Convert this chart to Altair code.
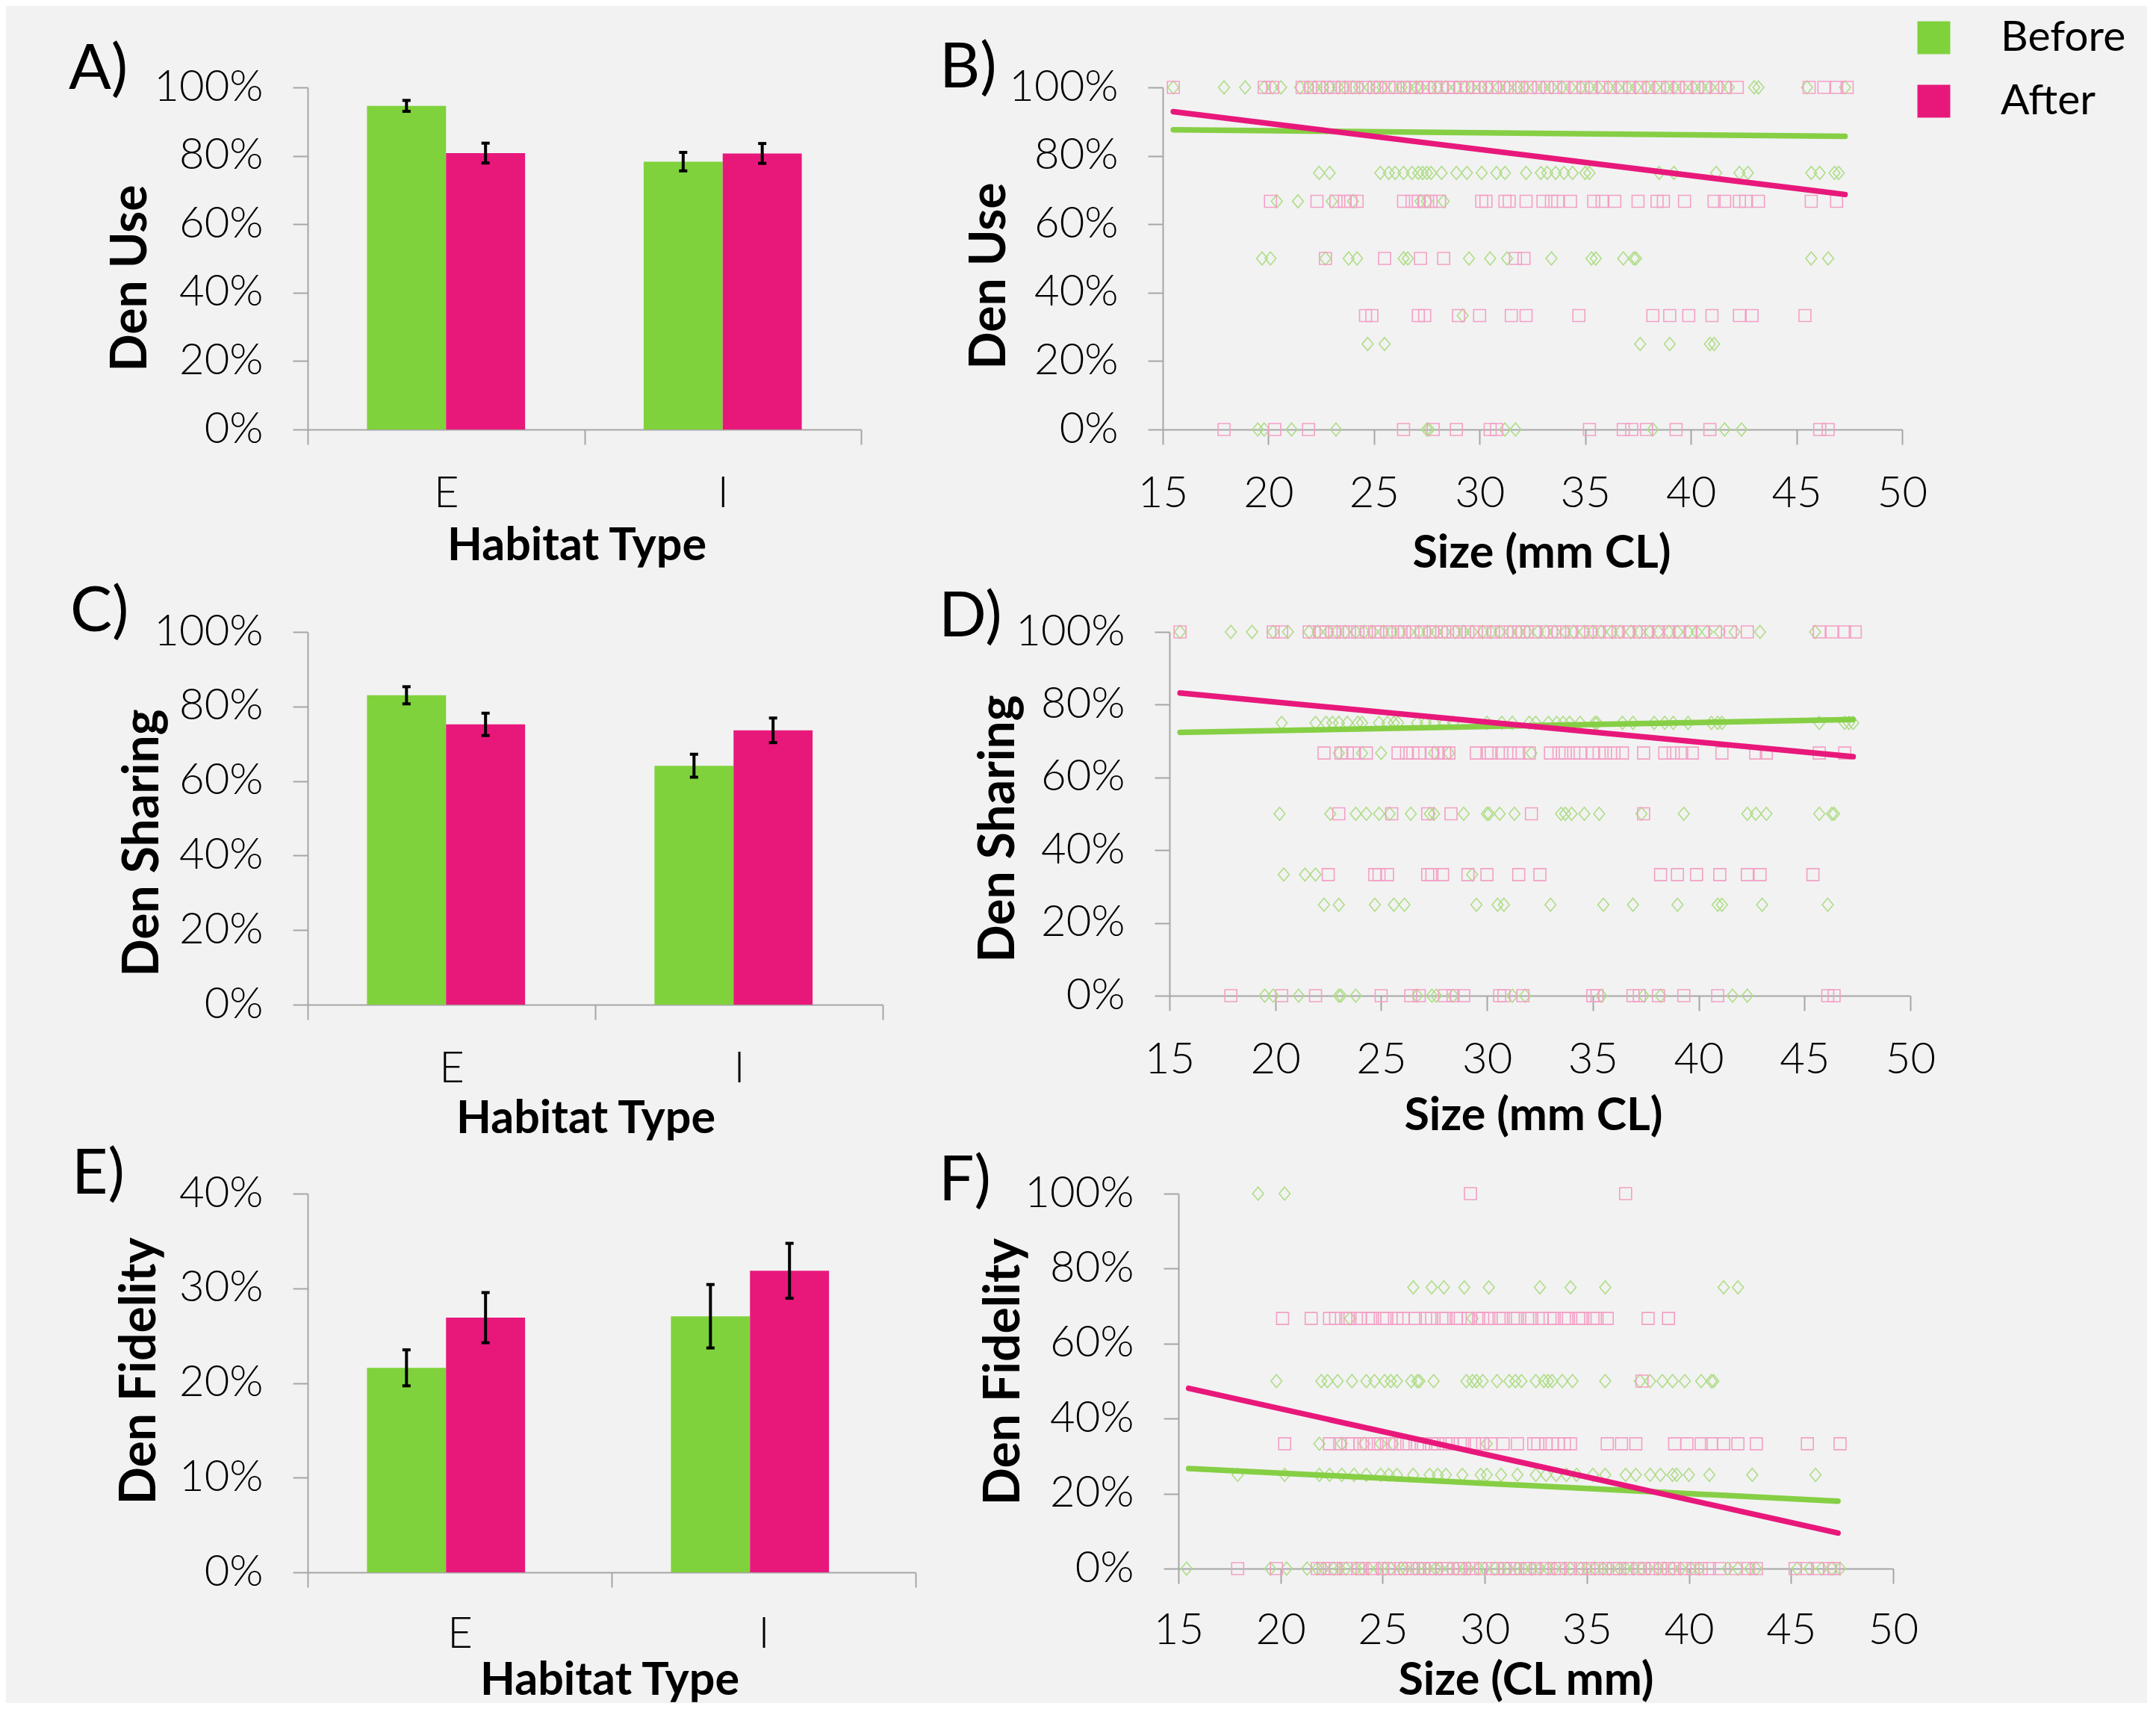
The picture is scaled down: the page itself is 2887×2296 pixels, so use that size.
import altair as alt
import pandas as pd

# ---------------- colours / fonts ----------------
BG = "#F2F2F2"
GREEN = "#80D23C"
PINK = "#E8187B"
LINE_GREEN = "#86CF45"
GREEN_LIGHT = "#AEDD86"
PINK_LIGHT = "#F3A0C5"
AXIS_GRAY = "#A6A6A6"
FONT = "Lato"

DIAMOND = "M0,-1L0.85,0L0,1L-0.85,0Z"

# ---------------- categories ----------------
PERIODS = ["Before", "After"]
HABITATS = ["E", "I"]
PCT_TICKS = [0, 0.2, 0.4, 0.6, 0.8, 1.0]
FID_TICKS = [0, 0.1, 0.2, 0.3, 0.4]
SIZE_TICKS = [15, 20, 25, 30, 35, 40, 45, 50]

# ---------------- bar values (E-Before, E-After, I-Before, I-After) ----------------
A_MEAN = [0.946, 0.808, 0.783, 0.807]
A_SE = [0.016, 0.029, 0.027, 0.029]
C_MEAN = [0.830, 0.752, 0.641, 0.736]
C_SE = [0.023, 0.030, 0.031, 0.033]
E_MEAN = [0.216, 0.269, 0.2705, 0.3185]
E_SE = [0.019, 0.0265, 0.0335, 0.029]

# ---------------- scatter values: size (mm CL) per response level ----------------
# B) Den Use
B_BEF_100 = [15.5, 17.9, 18.9, 19.8, 20.2, 20.6, 21.5, 21.9, 22.2, 22.6, 22.9, 23.3, 23.6, 24.0, 24.3, 24.8,
             25.1, 25.4, 25.9, 26.3, 26.6, 27.0, 27.2, 27.7, 28.0, 28.4, 28.9, 29.3, 29.6, 30.1, 30.4, 30.9,
             31.3, 31.8, 32.1, 32.6, 33.0, 33.4, 33.9, 34.3, 34.8, 35.2, 35.6, 36.1, 36.5, 37.0, 37.4, 37.9,
             38.3, 38.8, 39.2, 39.6, 40.1, 40.5, 40.9, 41.4, 41.8, 43.0, 43.2, 45.5, 47.3]
B_AFT_100 = [15.5, 19.8, 20.2, 21.6, 22.0, 22.4, 22.8, 23.1, 23.5, 23.9, 24.2, 24.6, 25.0, 25.3, 25.7, 26.0,
             26.4, 26.7, 27.0, 27.3, 27.6, 27.9, 28.2, 28.5, 28.8, 29.1, 29.4, 29.7, 30.0, 30.3, 30.6, 30.9,
             31.3, 31.7, 32.0, 32.4, 32.8, 33.2, 33.6, 34.0, 34.5, 34.9, 35.3, 35.8, 36.2, 36.7, 37.1, 37.6,
             38.0, 38.5, 38.9, 39.4, 39.8, 40.3, 40.7, 41.2, 41.6, 42.2, 45.6, 46.3, 46.9, 47.4]
B_BEF_75 = [22.4, 22.9, 25.3, 25.7, 26.0, 26.4, 26.8, 27.1, 27.3, 27.5, 27.7, 28.2, 28.9, 29.4, 30.1, 30.8,
            31.2, 32.2, 32.9, 33.2, 33.6, 34.0, 34.4, 35.0, 35.2, 38.5, 39.2, 41.2, 42.3, 42.7, 45.7, 46.1,
            46.8, 47.0]
B_BEF_67 = [20.4, 21.4, 23.0, 24.0, 27.2, 27.5, 28.3]
B_AFT_67 = [20.1, 22.3, 23.2, 23.6, 23.9, 24.2, 26.4, 26.8, 27.1, 27.4, 27.7, 28.1, 30.1, 30.3, 31.2, 31.4,
            32.2, 33.0, 33.4, 33.7, 34.3, 35.4, 35.8, 36.4, 37.5, 38.4, 38.7, 39.7, 41.1, 41.6, 42.3, 42.6,
            43.2, 45.7, 46.9]
B_BEF_50 = [19.7, 20.1, 22.7, 23.8, 24.2, 26.4, 26.6, 29.5, 30.5, 31.3, 33.4, 35.3, 35.5, 36.8, 37.3, 37.4,
            45.7, 46.5]
B_AFT_50 = [22.7, 25.5, 27.2, 28.3, 31.7, 32.1]
B_BEF_33 = [29.2]
B_AFT_33 = [24.6, 24.9, 27.1, 27.4, 29.0, 30.0, 31.5, 32.2, 34.7, 38.2, 39.0, 39.9, 41.0, 42.3, 42.9, 45.4]
B_BEF_25 = [24.7, 25.5, 37.6, 39.0, 40.9, 41.1]
B_BEF_0 = [19.5, 19.8, 21.1, 23.2, 27.5, 27.6, 31.2, 31.7, 38.2, 41.6, 42.4]
B_AFT_0 = [17.9, 20.3, 21.9, 26.4, 27.8, 28.9, 30.5, 30.8, 35.2, 36.8, 37.2, 37.9, 39.3, 40.9, 46.1, 46.5]

# D) Den Sharing
D_BEF_100 = [15.5, 17.9, 18.9, 19.9, 20.6, 21.6, 22.0, 22.5, 22.9, 23.3, 23.8, 24.2, 24.6, 25.1, 25.5, 25.9,
             26.3, 26.8, 27.2, 27.6, 28.0, 28.5, 28.9, 29.3, 29.8, 30.2, 30.6, 31.1, 31.5, 31.9, 32.4, 32.8,
             33.2, 33.7, 34.1, 34.6, 35.0, 35.4, 35.9, 36.3, 36.8, 37.2, 37.7, 38.1, 38.6, 39.0, 39.5, 39.9,
             40.4, 41.0, 41.7, 42.9, 45.5]
D_AFT_100 = [15.5, 19.9, 20.3, 21.6, 22.1, 22.4, 22.8, 23.2, 23.5, 23.9, 24.3, 24.7, 25.0, 25.4, 25.8, 26.1,
             26.5, 26.9, 27.3, 27.6, 28.0, 28.4, 28.7, 29.1, 29.5, 29.9, 30.3, 30.7, 31.1, 31.5, 31.9, 32.3,
             32.8, 33.2, 33.6, 34.0, 34.5, 34.9, 35.3, 35.8, 36.2, 36.7, 37.2, 37.6, 38.1, 38.6, 39.1, 39.6,
             40.2, 40.8, 41.5, 42.3, 45.7, 46.3, 46.9, 47.4]
D_BEF_75 = [20.3, 21.9, 22.4, 22.7, 23.0, 23.4, 23.9, 24.1, 24.9, 25.3, 25.6, 25.8, 26.7, 27.1, 27.5, 28.0,
            28.4, 30.0, 30.7, 31.2, 32.0, 32.3, 32.9, 33.3, 33.6, 33.9, 34.4, 35.1, 35.2, 36.4, 36.9, 37.9,
            38.4, 38.8, 39.5, 40.6, 40.9, 41.1, 45.7, 46.9, 47.1, 47.3]
D_BEF_67 = [23.0, 24.1, 25.0, 27.5, 28.2, 32.1]
D_AFT_67 = [22.3, 23.1, 23.4, 23.7, 24.3, 25.8, 26.2, 26.5, 26.8, 27.4, 27.7, 28.0, 28.2, 29.5, 30.0, 30.2,
            30.7, 31.1, 31.5, 32.0, 33.0, 33.4, 33.7, 34.1, 34.4, 35.0, 35.3, 35.6, 36.0, 36.4, 37.4, 38.4,
            38.8, 39.2, 39.7, 41.1, 42.7, 43.2, 45.7, 46.9]
D_BEF_50 = [20.2, 22.6, 23.8, 24.3, 24.9, 25.4, 26.4, 27.3, 27.5, 28.9, 30.0, 30.1, 30.6, 31.3, 33.5, 33.7,
            34.0, 34.6, 35.3, 37.3, 39.3, 42.3, 42.7, 43.2, 45.7, 46.3, 46.4]
D_AFT_50 = [23.0, 25.5, 27.2, 28.3, 32.1, 37.4]
D_BEF_33 = [20.4, 21.4, 21.9, 29.3]
D_AFT_33 = [22.5, 24.7, 24.9, 25.3, 27.2, 27.4, 27.9, 29.1, 30.0, 31.5, 32.5, 38.2, 39.0, 39.9, 41.0, 42.3,
            42.9, 45.4]
D_BEF_25 = [22.3, 23.0, 24.7, 25.6, 26.1, 29.5, 30.5, 30.8, 33.0, 35.5, 36.9, 39.0, 40.9, 41.1, 43.0, 46.1]
D_BEF_0 = [19.5, 19.9, 21.1, 23.0, 23.1, 23.8, 26.7, 27.4, 27.6, 28.4, 31.2, 31.8, 35.4, 37.4, 38.2, 41.6, 42.3]
D_AFT_0 = [17.9, 20.3, 21.9, 25.0, 26.4, 26.8, 28.0, 28.4, 28.9, 30.6, 30.8, 31.7, 35.0, 35.2, 36.9, 37.2,
           38.1, 39.3, 40.9, 46.1, 46.4]

# F) Den Fidelity
F_BEF_100 = [18.9, 20.2]
F_AFT_100 = [29.3, 36.9]
F_BEF_75 = [26.5, 27.4, 28.0, 29.0, 30.2, 32.7, 34.2, 35.9, 41.7, 42.4]
F_BEF_67 = [23.4, 29.4]
F_AFT_67 = [20.1, 21.5, 22.4, 22.7, 23.2, 23.4, 23.9, 24.3, 24.5, 25.0, 25.2, 25.7, 26.0, 26.6, 27.1, 27.4,
            27.9, 28.1, 28.6, 28.8, 29.2, 29.7, 29.9, 30.2, 30.7, 30.9, 31.4, 31.6, 32.1, 32.3, 32.8, 33.2,
            33.4, 33.9, 34.1, 34.6, 34.8, 35.3, 35.5, 36.0, 38.0, 39.0]
F_BEF_50 = [19.8, 22.0, 22.3, 22.8, 23.5, 24.2, 24.6, 25.1, 25.4, 25.7, 26.4, 26.7, 26.8, 27.5, 29.1, 29.4,
            29.6, 29.9, 30.6, 31.2, 31.5, 31.8, 32.5, 32.9, 33.1, 33.3, 33.8, 34.3, 35.9, 37.6, 38.1, 38.7,
            39.2, 39.8, 40.6, 41.1, 41.2]
F_AFT_50 = [37.7]
F_BEF_33 = [21.9, 23.0, 24.1, 24.9, 25.5, 30.1]
F_AFT_33 = [20.2, 22.4, 22.9, 23.3, 23.5, 23.9, 24.2, 24.6, 24.9, 25.3, 25.6, 26.0, 26.3, 26.7, 27.0, 27.4,
            27.7, 28.1, 28.4, 28.8, 29.0, 29.5, 29.9, 30.3, 30.9, 31.6, 32.4, 32.6, 33.0, 33.3, 33.6, 33.9,
            34.2, 36.0, 36.7, 37.4, 39.3, 39.9, 40.6, 41.1, 41.7, 42.4, 43.3, 45.8, 47.4]
F_BEF_25 = [17.9, 20.2, 21.9, 22.4, 23.0, 23.6, 24.2, 24.9, 25.3, 25.7, 26.5, 27.3, 27.7, 28.1, 28.9, 29.8,
            30.1, 30.8, 31.6, 32.5, 33.0, 33.5, 34.0, 34.5, 35.3, 35.9, 36.9, 37.4, 38.1, 38.6, 39.2, 39.4,
            40.0, 41.0, 43.1, 46.2]
F_BEF_0 = [15.4, 19.5, 20.3, 21.3, 21.8, 22.1, 22.6, 22.9, 23.2, 23.7, 24.0, 24.3, 24.8, 25.1, 25.4, 25.9,
           26.1, 26.6, 26.9, 27.2, 27.6, 27.8, 28.3, 28.6, 29.0, 29.2, 29.7, 30.0, 30.5, 30.8, 31.1, 31.6,
           31.9, 32.3, 32.7, 33.1, 33.4, 33.9, 34.2, 34.7, 35.0, 35.4, 35.8, 36.1, 36.6, 36.9, 37.3, 37.7,
           38.0, 38.5, 38.8, 39.2, 39.6, 40.1, 40.5, 41.9, 42.4, 43.0, 43.3, 45.3, 45.9, 46.5, 47.0, 47.4]
F_AFT_0 = [17.9, 19.8, 21.8, 22.1, 22.5, 22.7, 23.2, 23.8, 24.0, 24.5, 25.0, 25.3, 25.9, 26.1, 26.5, 26.8,
           27.0, 27.3, 27.6, 27.9, 28.2, 28.7, 29.0, 29.4, 29.8, 30.4, 30.6, 31.0, 31.2, 31.5, 32.0, 32.2,
           32.5, 33.0, 33.4, 33.7, 34.2, 34.7, 35.1, 35.5, 35.9, 36.3, 36.6, 37.0, 37.5, 37.8, 38.2, 38.6,
           39.0, 39.3, 39.8, 40.2, 40.6, 41.0, 41.5, 42.3, 42.9, 43.3, 45.2, 45.8, 46.3, 46.9, 47.1]

# ---------------- fitted trend lines (end points) ----------------
TREND_X = [15.5, 47.3]
B_TREND_BEF = [0.876, 0.857]
B_TREND_AFT = [0.929, 0.687]
D_TREND_BEF = [0.724, 0.759]
D_TREND_AFT = [0.832, 0.657]
F_TREND_BEF = [0.267, 0.180]
F_TREND_AFT = [0.481, 0.095]

PANEL_LABELS = ["A)", "B)", "C)", "D)", "E)", "F)"]


# ---------------- helpers ----------------
def y_axis(title, values, tx, ty, fmt=".0%"):
    return alt.Axis(
        title=title, values=values, format=fmt, tickSize=20, labelPadding=40,
        titleX=tx, titleY=ty, titleAngle=270, titleAlign="center", titleBaseline="middle",
        titleFont=FONT, titleFontSize=66, titleFontWeight="bold", titleColor="black",
        labelFont=FONT, labelFontSize=58, labelFontWeight=300, labelColor="black",
        domainColor=AXIS_GRAY, tickColor=AXIS_GRAY, domainWidth=2, tickWidth=2,
        grid=False, labelOverlap=False,
    )


def x_axis(title, tx, ty, lp, **kw):
    return alt.Axis(
        title=title, titleX=tx, titleY=ty, titleAngle=0, titleAlign="center",
        titleBaseline="alphabetic", titleFont=FONT, titleFontSize=61, titleFontWeight="bold",
        titleColor="black", tickSize=20, labelPadding=lp, labelAngle=0,
        labelFont=FONT, labelFontSize=58, labelFontWeight=300, labelColor="black",
        domainColor=AXIS_GRAY, tickColor=AXIS_GRAY, domainWidth=2, tickWidth=2,
        grid=False, labelOverlap=False, labelFlush=False, **kw,
    )


LEGEND = alt.Legend(
    title=None, orient="none", legendX=1004, legendY=-95, direction="vertical",
    symbolType="square", symbolSize=1936, symbolStrokeWidth=0, symbolOpacity=1,
    labelFont=FONT, labelFontSize=57, labelColor="black", labelOffset=61, labelLimit=400,
    rowPadding=27, padding=0,
)


def deco(label, lx, ly, frame):
    df = pd.DataFrame({"label": [label]})
    fx1, fx2, fy1, fy2 = frame
    box = alt.Chart(df).mark_rect(opacity=0).encode(
        x=alt.value(fx1), x2=alt.value(fx2), y=alt.value(fy1), y2=alt.value(fy2)
    )
    txt = alt.Chart(df).mark_text(
        align="left", baseline="top", font=FONT, fontSize=84, color="black"
    ).encode(x=alt.value(lx), y=alt.value(ly), text="label:N")
    return [txt, box]


def bar_df(means, ses):
    return pd.DataFrame({
        "habitat": [h for h in HABITATS for _ in PERIODS],
        "period": PERIODS * 2,
        "value": means,
        "lo": [m - s for m, s in zip(means, ses)],
        "hi": [m + s for m, s in zip(means, ses)],
    })


def bar_panel(means, ses, ydomain, yticks, ytitle, ytx, yty, xtx, xty, lp,
              label, lx, ly, frame, w, h):
    df = bar_df(means, ses)
    x = alt.X("habitat:N", sort=HABITATS, scale=alt.Scale(paddingInner=0, paddingOuter=0),
              axis=x_axis("Habitat Type", xtx, xty, lp, tickBand="extent"))
    xo = alt.XOffset("period:N", sort=PERIODS,
                     scale=alt.Scale(domain=PERIODS, paddingInner=0, paddingOuter=0.75))
    yscale = alt.Scale(domain=ydomain, nice=False, zero=True)
    yax = y_axis(ytitle, yticks, ytx, yty)
    bars = alt.Chart(df).mark_bar().encode(
        x=x, xOffset=xo,
        y=alt.Y("value:Q", scale=yscale, axis=yax),
        color=alt.Color("period:N", sort=PERIODS,
                        scale=alt.Scale(domain=PERIODS, range=[GREEN, PINK]), legend=None),
    )
    err = alt.Chart(df).mark_rule(color="black", strokeWidth=4).encode(
        x=x, xOffset=xo, y=alt.Y("lo:Q", scale=yscale, axis=yax), y2="hi:Q"
    )
    cap_lo = alt.Chart(df).mark_tick(color="black", thickness=4, size=11, opacity=1).encode(
        x=x, xOffset=xo, y=alt.Y("lo:Q", scale=yscale, axis=yax)
    )
    cap_hi = alt.Chart(df).mark_tick(color="black", thickness=4, size=11, opacity=1).encode(
        x=x, xOffset=xo, y=alt.Y("hi:Q", scale=yscale, axis=yax)
    )
    return alt.layer(bars, err, cap_lo, cap_hi, *deco(label, lx, ly, frame)).properties(width=w, height=h)


def rows_df(rows):
    sizes, vals = [], []
    for level, xs in rows:
        for v in xs:
            sizes.append(v)
            vals.append(level)
    return pd.DataFrame({"size": sizes, "value": vals})


def scatter_panel(bef_rows, aft_rows, t_bef, t_aft, ytitle, ytx, yty, xtitle, xtx, xty, lp,
                  label, lx, ly, frame, w, h, legend=False):
    x = alt.X("size:Q", scale=alt.Scale(domain=[15, 50], nice=False, zero=False),
              axis=x_axis(xtitle, xtx, xty, lp, values=SIZE_TICKS, format="d"))
    y = alt.Y("value:Q", scale=alt.Scale(domain=[0, 1], nice=False),
              axis=y_axis(ytitle, PCT_TICKS, ytx, yty))
    bef = alt.Chart(rows_df(bef_rows)).mark_point(
        shape=DIAMOND, filled=False, size=300, strokeWidth=1.6, color=GREEN_LIGHT, opacity=1
    ).encode(x=x, y=y)
    aft = alt.Chart(rows_df(aft_rows)).mark_point(
        shape="square", filled=False, size=256, strokeWidth=1.6, color=PINK_LIGHT, opacity=1
    ).encode(x=x, y=y)
    lb = alt.Chart(pd.DataFrame({"size": TREND_X, "value": t_bef})).mark_line(
        color=LINE_GREEN, strokeWidth=7.5, strokeCap="round"
    ).encode(x=x, y=y)
    la = alt.Chart(pd.DataFrame({"size": TREND_X, "value": t_aft})).mark_line(
        color=PINK, strokeWidth=7.5, strokeCap="round"
    ).encode(x=x, y=y)
    layers = [bef, aft, lb, la]
    if legend:
        leg = alt.Chart(pd.DataFrame({"period": PERIODS})).mark_square(opacity=0, size=100).encode(
            x=alt.value(0), y=alt.value(0),
            color=alt.Color("period:N", sort=PERIODS,
                            scale=alt.Scale(domain=PERIODS, range=[GREEN, PINK]), legend=LEGEND),
        )
        layers.append(leg)
    return alt.layer(*layers, *deco(label, lx, ly, frame)).properties(width=w, height=h)


# ---------------- panels ----------------
pA = bar_panel(A_MEAN, A_SE, [0, 1], PCT_TICKS, "Den Use", -237, 255, 360, 174, 37,
               PANEL_LABELS[0], -320, -64, (-404, 828, -109, 656), 741, 458)
pC = bar_panel(C_MEAN, C_SE, [0, 1], PCT_TICKS, "Den Sharing", -221, 282, 372, 171, 37,
               PANEL_LABELS[2], -318, -67, (-404, 828, -73, 683), 770, 499)
pE = bar_panel(E_MEAN, E_SE, [0, 0.4], FID_TICKS, "Den Fidelity", -225, 237, 404, 163, 34,
               PANEL_LABELS[4], -316, -66, (-404, 828, -69, 682), 814, 507)

pB = scatter_panel(
    [(1.0, B_BEF_100), (0.75, B_BEF_75), (0.667, B_BEF_67), (0.5, B_BEF_50), (0.333, B_BEF_33),
     (0.25, B_BEF_25), (0.0, B_BEF_0)],
    [(1.0, B_AFT_100), (0.667, B_AFT_67), (0.5, B_AFT_50), (0.333, B_AFT_33), (0.0, B_AFT_0)],
    B_TREND_BEF, B_TREND_AFT, "Den Use", -232, 252, "Size (mm CL)", 507, 184, 37,
    PANEL_LABELS[1], -299, -66, (-317, 1318, -109, 656), 990, 458, legend=True)
pD = scatter_panel(
    [(1.0, D_BEF_100), (0.75, D_BEF_75), (0.667, D_BEF_67), (0.5, D_BEF_50), (0.333, D_BEF_33),
     (0.25, D_BEF_25), (0.0, D_BEF_0)],
    [(1.0, D_AFT_100), (0.667, D_AFT_67), (0.5, D_AFT_50), (0.333, D_AFT_33), (0.0, D_AFT_0)],
    D_TREND_BEF, D_TREND_AFT, "Den Sharing", -229, 263, "Size (mm CL)", 487, 179, 37,
    PANEL_LABELS[3], -309, -60, (-326, 1309, -73, 683), 992, 487)
pF = scatter_panel(
    [(1.0, F_BEF_100), (0.75, F_BEF_75), (0.667, F_BEF_67), (0.5, F_BEF_50), (0.333, F_BEF_33),
     (0.25, F_BEF_25), (0.0, F_BEF_0)],
    [(1.0, F_AFT_100), (0.667, F_AFT_67), (0.5, F_AFT_50), (0.333, F_AFT_33), (0.0, F_AFT_0)],
    F_TREND_BEF, F_TREND_AFT, "Den Fidelity", -234, 238, "Size (CL mm)", 465, 168, 34,
    PANEL_LABELS[5], -321, -57, (-338, 1297, -69, 682), 957, 502)


def row(left, right):
    return (alt.hconcat(left, right, spacing=0)
            .resolve_scale(color="independent")
            .resolve_legend(color="independent"))


chart = (
    alt.vconcat(row(pA, pB), row(pC, pD), row(pE, pF), spacing=0)
    .resolve_scale(color="independent")
    .resolve_legend(color="independent")
    .properties(padding=0, background=BG)
    .configure(font=FONT)
    .configure_view(stroke=None)
)

chart.save("out.html", embed_options={"renderer": "svg", "actions": False})
